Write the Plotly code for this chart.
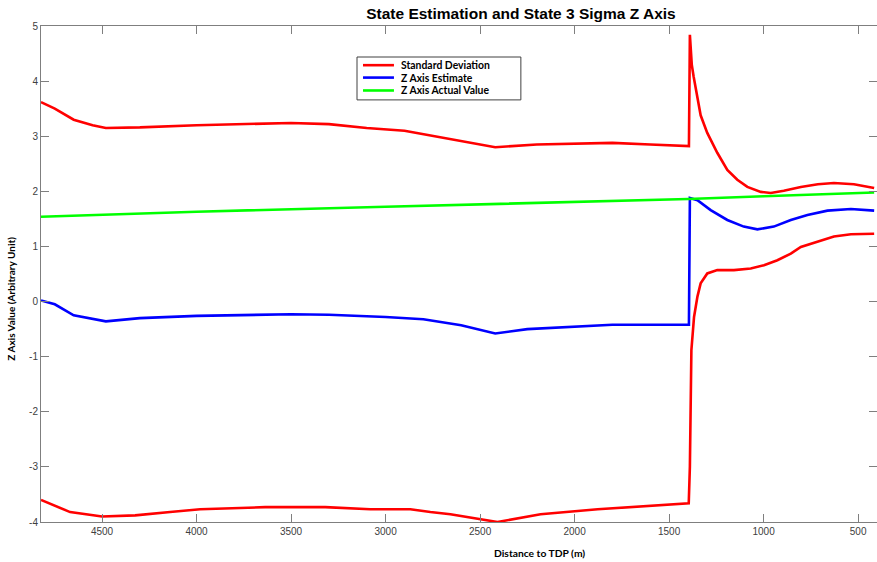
import plotly.graph_objects as go

# Upper 3-sigma bound
up_x = [4823, 4750, 4650, 4550, 4480, 4300, 4000, 3500, 3300, 3100, 2900, 2700, 2420, 2200,
        2000, 1800, 1600, 1395, 1390, 1386, 1380, 1370, 1359, 1345, 1333, 1298, 1245, 1192, 1139, 1086,
        1015, 962, 893, 803, 713, 628, 522, 415]
up_y = [3.62, 3.5, 3.3, 3.2, 3.15, 3.16, 3.2, 3.24, 3.22, 3.15, 3.1, 2.97, 2.8, 2.85,
        2.87, 2.88, 2.85, 2.82, 4.84, 4.6, 4.3, 4.08, 3.89, 3.6, 3.38, 3.06, 2.7, 2.39, 2.21, 2.08,
        1.99, 1.97, 2.01, 2.08, 2.13, 2.15, 2.13, 2.06]

# Lower 3-sigma bound
lo_x = [4823, 4750, 4669, 4500, 4325, 4140, 3981, 3637, 3319, 3081, 2869, 2763, 2657, 2408,
        2180, 1878, 1529, 1396, 1390, 1386, 1382, 1368, 1350, 1333, 1298, 1245, 1157, 1068,
        998, 927, 856, 803, 715, 628, 538, 415]
lo_y = [-3.6, -3.7, -3.82, -3.9, -3.88, -3.82, -3.77, -3.73, -3.73, -3.77, -3.77, -3.82, -3.86, -4.0,
        -3.86, -3.77, -3.69, -3.66, -3.0, -1.97, -0.88, -0.28, 0.09, 0.33, 0.51, 0.57, 0.57, 0.6,
        0.66, 0.75, 0.87, 0.99, 1.09, 1.18, 1.22, 1.23]

# Z axis estimate
est_x = [4823, 4750, 4650, 4480, 4300, 4000, 3500, 3300, 3000, 2800, 2600, 2420, 2250, 2000,
         1800, 1500, 1395, 1390, 1350, 1280, 1192, 1105, 1033, 946, 856, 768, 662, 538, 470, 415]
est_y = [0.02, -0.05, -0.25, -0.36, -0.3, -0.26, -0.23, -0.24, -0.28, -0.32, -0.43, -0.58, -0.5, -0.45,
         -0.42, -0.42, -0.42, 1.88, 1.84, 1.66, 1.48, 1.36, 1.31, 1.36, 1.48, 1.57, 1.65, 1.68, 1.67, 1.65]

# Z axis actual value
act_x = [4823, 4000, 3000, 2000, 1400, 1000, 415]
act_y = [1.54, 1.63, 1.72, 1.81, 1.86, 1.91, 1.98]

x_ticks = [4500, 4000, 3500, 3000, 2500, 2000, 1500, 1000, 500]
y_ticks = [-4, -3, -2, -1, 0, 1, 2, 3, 4, 5]

series_names = ["Standard Deviation", "Z Axis Estimate", "Z Axis Actual Value"]
series_colors = ["#ff0000", "#0000ff", "#00ff00"]

LW = 2.6
fig = go.Figure()
fig.add_trace(go.Scatter(x=up_x, y=up_y, mode="lines", name=series_names[0],
                         line=dict(color=series_colors[0], width=LW)))
fig.add_trace(go.Scatter(x=est_x, y=est_y, mode="lines", name=series_names[1],
                         line=dict(color=series_colors[1], width=LW)))
fig.add_trace(go.Scatter(x=act_x, y=act_y, mode="lines", name=series_names[2],
                         line=dict(color=series_colors[2], width=LW)))
fig.add_trace(go.Scatter(x=lo_x, y=lo_y, mode="lines", name=series_names[0],
                         line=dict(color=series_colors[0], width=LW)))

tickfont = dict(family="Arial, Liberation Sans", size=10, color="#404040")
axis_common = dict(showgrid=False, zeroline=False, showline=True, linecolor="#7f7f7f", linewidth=1,
                   mirror="ticks", ticks="inside", ticklen=8, tickcolor="#7f7f7f",
                   tickfont=tickfont, automargin=False)

# Legend (drawn in paper coordinates)
lx0, lx1, ly0, ly1 = 0.378, 0.574, 0.851, 0.9375
rows = [0.921, 0.896, 0.870]
shapes = [dict(type="rect", xref="paper", yref="paper", x0=lx0, x1=lx1, y0=ly0, y1=ly1,
               line=dict(color="#404040", width=1), fillcolor="white", layer="above")]
annotations = []
for name, col, ry in zip(series_names, series_colors, rows):
    shapes.append(dict(type="line", xref="paper", yref="paper", x0=0.3852, x1=0.4222, y0=ry, y1=ry,
                       line=dict(color=col, width=LW), layer="above"))
    annotations.append(dict(text="<b>" + name + "</b>", xref="paper", yref="paper", x=0.4282, y=ry,
                            xanchor="left", yanchor="middle", showarrow=False,
                            font=dict(family="Lato, Arial", size=10.4, color="black")))

annotations.append(dict(text="<b>Distance to TDP (m)</b>", xref="paper", yref="paper", x=0.596, y=-0.0625,
                        xanchor="center", yanchor="middle", showarrow=False,
                        font=dict(family="Lato, Arial", size=10.3, color="black")))
annotations.append(dict(text="<b>Z Axis Value (Arbitrary Unit)</b>", xref="paper", yref="paper",
                        x=-0.036, y=0.45, xanchor="center", yanchor="middle", textangle=-90,
                        showarrow=False, font=dict(family="Lato, Arial", size=10, color="black")))

fig.update_layout(
    width=877, height=562,
    paper_bgcolor="white", plot_bgcolor="white",
    margin=dict(l=41, r=0, t=26, b=40),
    title=dict(text="<b>State Estimation and State 3 Sigma Z Axis</b>", x=0.594, xanchor="center",
               xref="container", y=0.975, yanchor="middle",
               font=dict(family="Arial, Liberation Sans", size=15.5, color="black")),
    xaxis=dict(range=[4823, 400], tickvals=x_ticks, ticktext=[str(v) for v in x_ticks], **axis_common),
    yaxis=dict(range=[-4, 5], tickvals=y_ticks, ticktext=[str(v) for v in y_ticks], **axis_common),
    showlegend=False,
    hovermode=False,
    shapes=shapes,
    annotations=annotations,
)

# Remove the default page margin so the figure fills the 877x562 window exactly.
fig.write_html("out.html",
               config={"displayModeBar": False},
               post_script="document.body.style.margin='0';document.body.style.overflow='hidden';")
